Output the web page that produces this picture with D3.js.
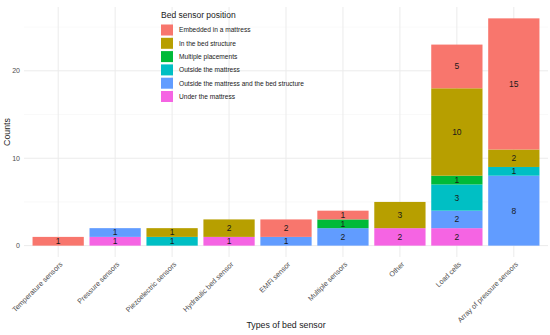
<!DOCTYPE html>
<html><head><meta charset="utf-8">
<script src="https://cdn.jsdelivr.net/npm/d3@7"></script>
<style>body{margin:0;background:#fff}svg{display:block;font-family:"Liberation Sans",Arial,sans-serif}</style>
</head><body><svg id="c" width="550" height="335"></svg>
<script>
const categories = ["Temperature sensors","Pressure sensors","Piezoelectric sensors","Hydraulic bed sensor","EMFi sensor","Multiple sensors","Other","Load cells","Array of pressure sensors"];
const positions = ["Embedded in a mattress","In the bed structure","Multiple placements","Outside the mattress","Outside the mattress and the bed structure","Under the mattress"];
const colors = ["#F8766D","#B79F00","#00BA38","#00BFC4","#619CFF","#F564E3"];
// values per position, one entry per category
const embedded      = [1,0,0,0,2,1,0,5,15];
const inBed         = [0,0,1,2,0,0,3,10,2];
const multiple      = [0,0,0,0,0,1,0,1,0];
const outsideMatt   = [0,0,1,0,0,0,0,3,1];
const outsideBoth   = [0,1,0,0,1,2,0,2,8];
const underMatt     = [0,1,0,1,0,0,2,2,0];
const yTicks = [0,10,20];
const yMinor = [5,15,25];

const series = [embedded,inBed,multiple,outsideMatt,outsideBoth,underMatt];
const svg = d3.select("#c");
const L=24,R=548,T=7,B=257;
const x = d3.scaleBand().domain(categories).range([L,R]).paddingInner(0.1).paddingOuter(0.15);
const maxTot = d3.max(categories.map((c,i)=>d3.sum(series,s=>s[i])));
const y = d3.scaleLinear().domain([-maxTot*0.05, maxTot*1.05]).range([B,T]);

// grid
const g = svg.append("g");
yMinor.forEach(v=>g.append("line").attr("x1",L).attr("x2",R).attr("y1",y(v)).attr("y2",y(v)).attr("stroke","#f2f2f2").attr("stroke-width",0.5));
yTicks.forEach(v=>g.append("line").attr("x1",L).attr("x2",R).attr("y1",y(v)).attr("y2",y(v)).attr("stroke","#ebebeb").attr("stroke-width",1));
categories.forEach(c=>g.append("line").attr("x1",x(c)+x.bandwidth()/2).attr("x2",x(c)+x.bandwidth()/2).attr("y1",T).attr("y2",B).attr("stroke","#ebebeb").attr("stroke-width",1));

// stacks: bottom = Under the mattress (last), top = Embedded (first)
const rows = categories.map((c,i)=>{const o={cat:c}; positions.forEach((p,j)=>o[p]=series[j][i]); return o;});
const stack = d3.stack().keys(positions.slice().reverse())(rows);
stack.forEach(layer=>{
  const col = colors[positions.indexOf(layer.key)];
  layer.forEach(d=>{
    if(d[1]-d[0]<=0) return;
    svg.append("rect").attr("x",x(d.data.cat)).attr("width",x.bandwidth())
      .attr("y",y(d[1])).attr("height",y(d[0])-y(d[1])).attr("fill",col);
    svg.append("text").attr("x",x(d.data.cat)+x.bandwidth()/2).attr("y",y((d[0]+d[1])/2)).attr("dy","0.35em")
      .attr("text-anchor","middle").attr("font-size",8.5).attr("fill","#1a1a1a").text(d[1]-d[0]);
  });
});

// y axis labels
yTicks.forEach(v=>svg.append("text").attr("x",20).attr("y",y(v)).attr("dy","0.35em").attr("text-anchor","end").attr("font-size",7).attr("fill","#4d4d4d").text(v));
// x labels
categories.forEach(c=>{
  const cx=x(c)+x.bandwidth()/2;
  svg.append("text").attr("transform",`translate(${cx+3},${B+6}) rotate(-45)`).attr("text-anchor","end").attr("dy","0.35em")
    .attr("font-size",7.2).attr("fill","#4d4d4d").text(c);
});
svg.append("text").attr("x",(L+R)/2).attr("y",328).attr("text-anchor","middle").attr("font-size",8.8).attr("fill","#1a1a1a").text("Types of bed sensor");
svg.append("text").attr("transform",`translate(10,${(T+B)/2}) rotate(-90)`).attr("text-anchor","middle").attr("font-size",8.8).attr("fill","#1a1a1a").text("Counts");

// legend
const lg = svg.append("g").attr("transform","translate(161,0)");
lg.append("text").attr("x",0).attr("y",18).attr("font-size",8.5).attr("fill","#1a1a1a").text("Bed sensor position");
positions.forEach((p,j)=>{
  const cy=30+j*13.3;
  lg.append("rect").attr("x",0).attr("y",cy-5.5).attr("width",12).attr("height",11).attr("fill",colors[j]);
  lg.append("text").attr("x",18).attr("y",cy).attr("dy","0.35em").attr("font-size",6.6).attr("fill","#1a1a1a").text(p);
});
</script></body></html>
